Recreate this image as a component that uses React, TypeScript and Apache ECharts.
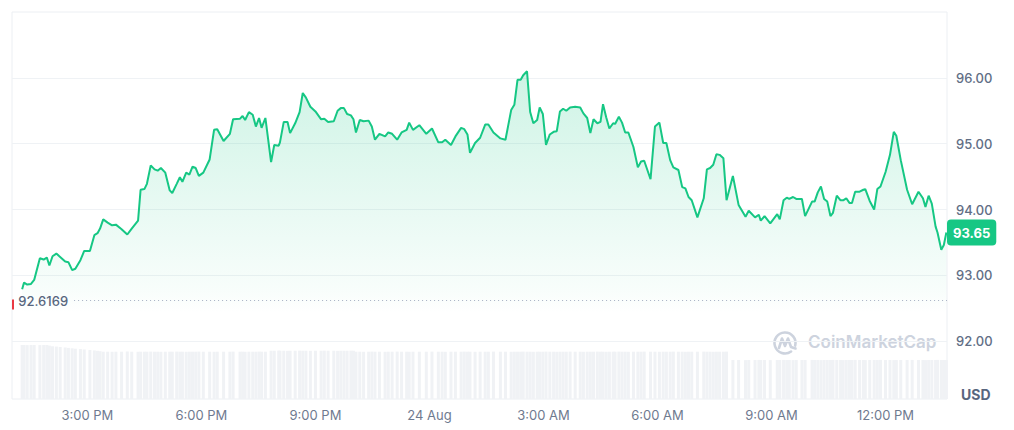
import React, { useEffect, useRef } from "react";
import * as echarts from "echarts";

// clock times of the price points, 23 Aug -> 24 Aug (day rolls over when the clock goes back)
const times = [
  "13:17", "13:20", "13:25", "13:31", "13:36", "13:45", "13:51", "13:56", "14:00", "14:05",
  "14:11", "14:17", "14:25", "14:30", "14:36", "14:41", "14:49", "14:55", "15:04", "15:11",
  "15:16", "15:20", "15:25", "15:32", "15:39", "15:45", "15:54", "16:03", "16:10", "16:20",
  "16:24", "16:30", "16:34", "16:40", "16:46", "16:51", "16:56", "17:03", "17:10", "17:14",
  "17:21", "17:26", "17:30", "17:36", "17:41", "17:46", "17:51", "17:56", "18:03", "18:13",
  "18:20", "18:25", "18:35", "18:45", "18:50", "19:01", "19:05", "19:09", "19:15", "19:21",
  "19:26", "19:31", "19:35", "19:41", "19:50", "19:55", "20:02", "20:04", "20:10", "20:16",
  "20:20", "20:28", "20:35", "20:40", "20:45", "20:52", "21:00", "21:09", "21:14", "21:20",
  "21:29", "21:35", "21:40", "21:45", "21:50", "21:56", "22:00", "22:04", "22:10", "22:16",
  "22:24", "22:29", "22:34", "22:41", "22:50", "22:55", "23:01", "23:09", "23:16", "23:24",
  "23:28", "23:34", "23:44", "23:55", "00:04", "00:14", "00:20", "00:25", "00:34", "00:41",
  "00:50", "00:55", "01:00", "01:04", "01:12", "01:20", "01:28", "01:33", "01:41", "01:52",
  "02:00", "02:09", "02:14", "02:19", "02:24", "02:28", "02:34", "02:39", "02:44", "02:50",
  "02:54", "02:59", "03:04", "03:10", "03:16", "03:21", "03:26", "03:31", "03:36", "03:42",
  "03:50", "03:58", "04:03", "04:09", "04:14", "04:19", "04:25", "04:30", "04:34", "04:39",
  "04:44", "04:50", "04:53", "04:59", "05:04", "05:09", "05:14", "05:22", "05:29", "05:34",
  "05:39", "05:49", "05:56", "06:03", "06:09", "06:14", "06:20", "06:25", "06:33", "06:39",
  "06:44", "06:49", "06:54", "07:03", "07:13", "07:18", "07:23", "07:28", "07:33", "07:38",
  "07:44", "07:49", "07:59", "08:08", "08:19", "08:24", "08:34", "08:40", "08:43", "08:49",
  "08:58", "09:09", "09:13", "09:19", "09:24", "09:28", "09:34", "09:39", "09:48", "09:53",
  "10:04", "10:08", "10:13", "10:18", "10:23", "10:28", "10:33", "10:37", "10:43", "10:49",
  "10:53", "10:58", "11:03", "11:07", "11:12", "11:19", "11:25", "11:28", "11:35", "11:42",
  "11:47", "11:52", "12:00", "12:07", "12:13", "12:17", "12:24", "12:34", "12:42", "12:52",
  "12:59", "13:03", "13:08", "13:13", "13:19", "13:22", "13:28", "13:32", "13:36",
];

const prices = [
  92.79, 92.89, 92.86, 92.87, 92.93, 93.26, 93.24, 93.27, 93.15, 93.29,
  93.33, 93.28, 93.21, 93.2, 93.08, 93.1, 93.23, 93.37, 93.37, 93.61,
  93.64, 93.71, 93.85, 93.8, 93.76, 93.77, 93.7, 93.62, 93.71, 93.83,
  94.3, 94.31, 94.39, 94.67, 94.61, 94.59, 94.63, 94.56, 94.29, 94.25,
  94.39, 94.49, 94.42, 94.56, 94.53, 94.65, 94.63, 94.51, 94.56, 94.76,
  95.21, 95.22, 95.04, 95.15, 95.37, 95.38, 95.42, 95.36, 95.48, 95.44,
  95.26, 95.39, 95.24, 95.39, 94.72, 94.98, 94.97, 95.02, 95.33, 95.33,
  95.16, 95.31, 95.48, 95.77, 95.7, 95.56, 95.49, 95.37, 95.38, 95.33,
  95.34, 95.5, 95.54, 95.54, 95.45, 95.43, 95.37, 95.17, 95.36, 95.34,
  95.35, 95.26, 95.06, 95.15, 95.11, 95.17, 95.15, 95.06, 95.17, 95.21,
  95.32, 95.21, 95.28, 95.15, 95.23, 95.02, 95.02, 95.06, 94.98, 95.11,
  95.24, 95.22, 95.14, 94.86, 95.01, 95.09, 95.29, 95.29, 95.17, 95.08,
  95.06, 95.51, 95.59, 95.97, 95.97, 96.04, 96.1, 95.48, 95.31, 95.36,
  95.55, 95.45, 94.98, 95.14, 95.18, 95.19, 95.49, 95.53, 95.5, 95.55,
  95.56, 95.55, 95.46, 95.39, 95.16, 95.37, 95.31, 95.33, 95.6, 95.4,
  95.23, 95.31, 95.3, 95.41, 95.32, 95.17, 95.17, 94.95, 94.64, 94.73,
  94.74, 94.46, 95.26, 95.32, 95.01, 95.01, 94.75, 94.64, 94.6, 94.34,
  94.32, 94.19, 94.14, 93.88, 94.17, 94.61, 94.63, 94.68, 94.84, 94.83,
  94.78, 94.14, 94.51, 94.07, 93.89, 93.98, 93.88, 93.92, 93.83, 93.9,
  93.79, 93.93, 93.85, 94.14, 94.18, 94.16, 94.19, 94.16, 94.16, 93.9,
  94.12, 94.12, 94.26, 94.35, 94.16, 94.12, 93.9, 93.95, 94.21, 94.14,
  94.14, 94.17, 94.1, 94.1, 94.27, 94.27, 94.3, 94.31, 94.13, 94.0,
  94.31, 94.35, 94.57, 94.83, 95.18, 95.12, 94.75, 94.3, 94.08, 94.27,
  94.17, 94.04, 94.21, 94.09, 93.74, 93.65, 93.39, 93.46, 93.65,
];

// 24h volume (M USD), one bar per price point
const volumes = [
  5.58, 5.58, 5.57, 5.58, 5.58, 5.57, 5.58, 5.58, 5.52,
  5.45, 5.42, 5.38, 5.33, 5.28, 5.24, 5.2, 5.16, 5.12, 5.06, 5.02, 4.98, 4.94,
  4.89, 4.89, 4.88, 4.89, 4.89, 4.9, 4.89, 4.88, 4.89, 4.89,
  4.89, 4.9, 4.89, 4.89, 4.88, 4.89, 4.89, 4.89, 4.9, 4.89,
  4.89, 4.88, 4.89, 4.89, 4.89, 4.9, 4.89, 4.89, 4.88, 4.89,
  4.89, 4.89, 4.9, 4.89, 4.89, 4.88, 4.89, 4.89, 4.89, 4.9,
  4.89, 4.89,
  4.99, 4.99, 5.0, 4.99, 4.99, 4.98, 4.99, 4.99, 5.0, 4.99,
  4.99, 4.98, 4.99, 4.99, 5.0, 4.99, 4.99, 4.98, 4.99, 4.99,
  4.99, 5.0, 4.99,
  4.89, 4.89, 4.88, 4.89, 4.9, 4.89, 4.89, 4.88, 4.89, 4.89,
  4.9, 4.89, 4.89, 4.88, 4.89, 4.89, 4.89, 4.9, 4.89, 4.89,
  4.88, 4.89, 4.89, 4.89, 4.9, 4.89, 4.89, 4.88, 4.89, 4.89,
  4.89, 4.9, 4.89, 4.89, 4.88, 4.89, 4.89, 4.89, 4.9, 4.89,
  4.89, 4.88, 4.89, 4.89, 4.89, 4.9, 4.89, 4.89, 4.88, 4.89,
  4.89, 4.89, 4.9, 4.89, 4.89, 4.88, 4.89, 4.89, 4.89, 4.9,
  4.89, 4.89, 4.88, 4.89, 4.89, 4.89, 4.9, 4.89, 4.89, 4.88,
  4.89, 4.89, 4.89, 4.9, 4.89, 4.89, 4.88, 4.89, 4.89, 4.89,
  4.9, 4.89, 4.89, 4.88, 4.89, 4.89, 4.89, 4.9, 4.89, 4.89,
  4.88, 4.89, 4.89, 4.89, 4.9,
  4.03, 4.03, 4.02, 4.03, 4.03, 4.04, 4.03, 4.03, 4.02, 4.03,
  4.03, 4.04, 4.03, 4.03, 4.02, 4.03, 4.03, 4.03, 4.04, 4.03,
  4.03, 4.02, 4.03, 4.03, 4.03, 4.04, 4.03, 4.03, 4.02, 4.03,
  4.03, 4.03, 4.04, 4.03, 4.03, 4.02, 4.03, 4.03, 4.03, 4.04,
  4.03, 4.03, 4.02, 4.03, 4.03, 4.03, 4.04, 4.03, 4.03, 4.02,
  4.03, 4.03, 4.03, 4.04, 4.03, 4.03, 4.03,
];

const tickTimes = ["15:00", "18:00", "21:00", "00:00", "03:00", "06:00", "09:00", "12:00"];
const axisStart = "13:01"; // 23 Aug
const axisEnd = "13:37"; // 24 Aug
const openPrice = 92.6169;
const openLineFrom = "14:39";

const GREEN = "#16c784";

// turn "HH:MM" lists into timestamps, moving to the next day when the clock wraps
const toStamps = (list: string[], day = 23) => {
  let d = day;
  let prev = -1;
  return list.map((s) => {
    const [h, m] = s.split(":").map(Number);
    const mins = h * 60 + m;
    if (mins < prev) d += 1;
    prev = mins;
    return new Date(2023, 7, d, h, m).getTime();
  });
};

const stamp = (s: string, day: number) => toStamps([s], day)[0];

const fmtTick = (v: number) => {
  const d = new Date(v);
  const h = d.getHours();
  if (h === 0) return `${d.getDate()} Aug`;
  const h12 = h % 12 === 0 ? 12 : h % 12;
  return `${h12}:00 ${h < 12 ? "AM" : "PM"}`;
};

const App = () => {
  const chartRef = useRef<HTMLDivElement>(null);

  useEffect(() => {
    if (!chartRef.current) return;
    const chart = echarts.init(chartRef.current, undefined, { renderer: "svg" });

    const ts = toStamps(times);
    const priceData = ts.map((t, i) => [t, prices[i]]);
    const volData = ts.map((t, i) => [t, volumes[i]]);
    const ticks = toStamps(tickTimes);
    const xMin = stamp(axisStart, 23);
    const xMax = stamp(axisEnd, 24);
    const last = prices[prices.length - 1];

    const options = {
      animation: false,
      textStyle: { fontFamily: "Inter, sans-serif" },
      grid: [
        { left: 12, right: 67, top: 12, bottom: 23 },
        {
          left: 12,
          right: 67,
          top: 12,
          bottom: 31,
          show: true,
          borderColor: "#eceff3",
          borderWidth: 1,
          backgroundColor: "transparent",
        },
      ],
      xAxis: [
        { type: "value", gridIndex: 0, min: xMin, max: xMax, show: false },
        {
          type: "value",
          gridIndex: 1,
          min: xMin,
          max: xMax,
          axisLine: { show: false },
          axisTick: { show: false },
          splitLine: { show: false },
          axisLabel: {
            customValues: ticks,
            formatter: fmtTick,
            color: "#6f7a8f",
            fontSize: 13,
            margin: 9,
          },
        },
      ],
      yAxis: [
        {
          type: "value",
          gridIndex: 0,
          position: "right",
          min: 91,
          max: 97,
          interval: 1,
          axisLine: { show: false },
          axisTick: { show: false },
          axisLabel: {
            formatter: (v: number) => (v === 91 || v === 97 ? "" : v.toFixed(2)),
            color: "#616e85",
            fontSize: 13,
            fontWeight: 500,
            margin: 9,
          },
          splitLine: {
            showMinLine: false,
            showMaxLine: false,
            lineStyle: { color: "#eff2f5" },
          },
        },
        { type: "value", gridIndex: 1, min: 0, max: 40, show: false },
      ],
      series: [
        {
          type: "bar",
          xAxisIndex: 1,
          yAxisIndex: 1,
          data: volData,
          barWidth: 3,
          silent: true,
          itemStyle: { color: "#f0f2f5" },
        },
        {
          type: "line",
          xAxisIndex: 0,
          yAxisIndex: 0,
          data: priceData,
          showSymbol: false,
          lineStyle: { color: GREEN, width: 2 },
          areaStyle: {
            color: new echarts.graphic.LinearGradient(0, 0, 0, 1, [
              { offset: 0, color: "rgba(22,199,132,0.30)" },
              { offset: 0.66, color: "rgba(22,199,132,0.04)" },
              { offset: 0.72, color: "rgba(22,199,132,0)" },
              { offset: 1, color: "rgba(22,199,132,0)" },
            ]),
          },
          markLine: {
            silent: true,
            symbol: "none",
            data: [
              [
                {
                  coord: [stamp(openLineFrom, 23), openPrice],
                  lineStyle: { color: "#a6b0c3", type: [1, 3], width: 1 },
                  label: {
                    show: true,
                    position: "start",
                    distance: 6,
                    formatter: String(openPrice),
                    color: "#58667e",
                    fontSize: 13,
                    fontWeight: 500,
                  },
                },
                { coord: [xMax, openPrice] },
              ],
              {
                yAxis: last,
                lineStyle: { color: "transparent", width: 0 },
                label: {
                  show: true,
                  position: "end",
                  distance: 0,
                  formatter: last.toFixed(2),
                  color: "#ffffff",
                  fontSize: 13,
                  fontWeight: 700,
                  backgroundColor: GREEN,
                  borderRadius: 4,
                  padding: [7, 6, 6, 6],
                },
              },
            ],
          },
          markPoint: {
            silent: true,
            data: [
              {
                coord: [xMin, openPrice],
                symbol: "rect",
                symbolSize: [2, 10],
                symbolOffset: [1, 4],
                itemStyle: { color: "#ea3943" },
                label: { show: false },
              },
            ],
          },
        },
      ],
      graphic: [
        {
          type: "text",
          left: 961,
          top: 387,
          style: { text: "USD", fill: "#58667e", font: "700 14px Inter, sans-serif" },
        },
        {
          type: "arc",
          shape: { cx: 785, cy: 343, r: 10.5, startAngle: 0.95, endAngle: Math.PI * 2 + 0.25, clockwise: true },
          style: { stroke: "#cdd3de", lineWidth: 2.6, fill: "none", lineCap: "round" },
        },
        {
          type: "polyline",
          shape: {
            points: [
              [779, 348],
              [782, 338.5],
              [785, 346],
              [788, 338.5],
              [791, 347],
              [795.5, 348.5],
            ],
          },
          style: { stroke: "#cdd3de", lineWidth: 2.6, fill: "none", lineJoin: "round", lineCap: "round" },
        },
        {
          type: "text",
          left: 808,
          top: 333,
          style: { text: "CoinMarketCap", fill: "#cdd3de", font: "600 17px Inter, sans-serif" },
        },
      ],
    };

    chart.setOption(options);

    return () => {
      chart.dispose();
    };
  }, []);

  return (
    <div
      ref={chartRef}
      style={{ position: "absolute", left: 0, top: 0, width: "1014px", height: "430px", background: "#fff" }}
    />
  );
};

export default App;
